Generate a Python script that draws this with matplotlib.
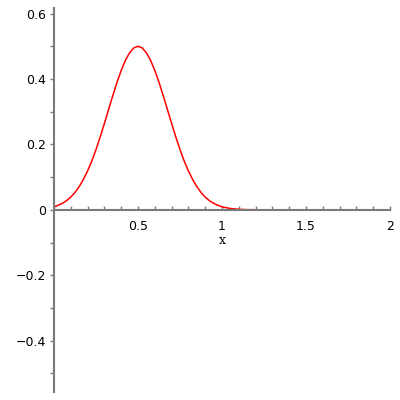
import numpy as np
import matplotlib.pyplot as plt
from matplotlib.ticker import MultipleLocator

# curve values
x = [0, 0.025, 0.05, 0.075, 0.1, 0.125, 0.15, 0.175, 0.2, 0.225, 0.25, 0.275, 0.3, 0.325, 0.35,
     0.375, 0.4, 0.425, 0.45, 0.475, 0.5, 0.525, 0.55, 0.575, 0.6, 0.625, 0.65, 0.675, 0.7,
     0.725, 0.75, 0.775, 0.8, 0.825, 0.85, 0.875, 0.9, 0.925, 0.95, 0.975, 1.0, 1.05, 1.1,
     1.15, 1.2, 1.3, 1.5, 2.0]
y = [0.009, 0.014, 0.020, 0.028, 0.039, 0.053, 0.071, 0.093, 0.119, 0.149, 0.184, 0.223, 0.264, 0.307, 0.349,
     0.390, 0.426, 0.457, 0.480, 0.495, 0.5, 0.495, 0.480, 0.457, 0.426, 0.390, 0.349, 0.307, 0.264,
     0.223, 0.184, 0.149, 0.119, 0.093, 0.071, 0.053, 0.039, 0.028, 0.020, 0.014, 0.009, 0.004, 0.0016,
     0.0006, 0.0002, 0.0, 0.0, 0.0]

xticks = [0.5, 1, 1.5, 2]
xticklabels = ["0.5", "1", "1.5", "2"]
yticks = [-0.4, -0.2, 0, 0.2, 0.4, 0.6]
yticklabels = ["\u22120.4", "\u22120.2", "0", "0.2", "0.4", "0.6"]

fig = plt.figure(figsize=(4, 4), dpi=100)
ax = fig.add_axes([0.135, 0.02, 0.84, 0.96])

ax.plot(x, y, color="#ff0000", lw=1.1)

ax.set_xlim(0, 2)
ax.set_ylim(-0.557, 0.617)

gray = "#7a7a7a"
for s in ["top", "right"]:
    ax.spines[s].set_visible(False)
ax.spines["left"].set_position(("data", 0))
ax.spines["bottom"].set_position(("data", 0))
ax.spines["left"].set_color(gray)
ax.spines["bottom"].set_color(gray)
ax.spines["left"].set_linewidth(1.5)
ax.spines["bottom"].set_linewidth(1.5)

ax.set_xticks(xticks)
ax.set_xticklabels(xticklabels)
ax.set_yticks(yticks)
ax.set_yticklabels(yticklabels)
ax.xaxis.set_minor_locator(MultipleLocator(0.1))
ax.yaxis.set_minor_locator(MultipleLocator(0.1))

ax.tick_params(axis="x", which="both", direction="in", length=3, width=1, color=gray,
               labelsize=9, pad=7)
ax.tick_params(axis="y", which="both", direction="out", length=3, width=1, color=gray,
               labelsize=9, pad=3)

ax.set_xlabel("x", fontsize=9, family="DejaVu Serif", labelpad=1)

fig.savefig("out.png", dpi=100)
